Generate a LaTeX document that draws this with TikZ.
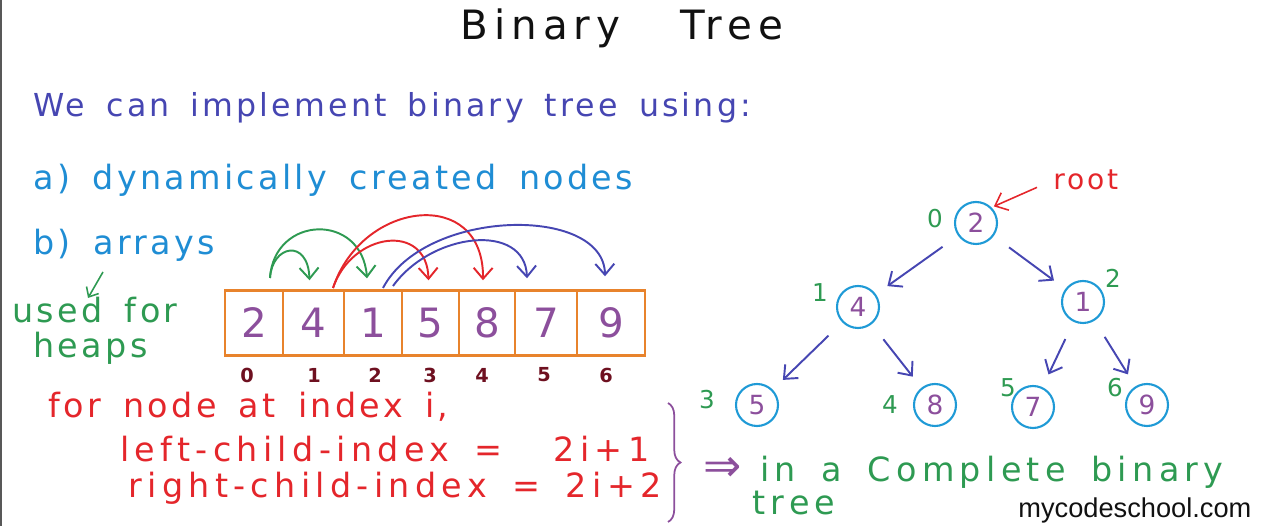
\documentclass[tikz,border=0pt]{standalone}
\usepackage{fontspec}
\setmainfont{DejaVu Sans}
\newfontfamily\handfont[LetterSpace=10, WordSpace=1.6]{DejaVu Sans}
\newfontfamily\widefont[LetterSpace=16, WordSpace=1.6]{DejaVu Sans}
\newfontfamily\titlefont[LetterSpace=15]{DejaVu Sans}
\newfontfamily\sitefont{Liberation Sans}
\usetikzlibrary{positioning, calc, arrows.meta, decorations.pathreplacing}
\definecolor{btInk}{HTML}{111111}
\definecolor{btIndigo}{HTML}{4646B2}
\definecolor{btSky}{HTML}{1F8DD4}
\definecolor{btGreen}{HTML}{2E9A52}
\definecolor{btOrange}{HTML}{E8832C}
\definecolor{btPurple}{HTML}{8C4F9C}
\definecolor{btMaroon}{HTML}{6E1020}
\definecolor{btRed}{HTML}{E4262B}
\definecolor{btCyan}{HTML}{1F9AD6}

\begin{document}
\begin{tikzpicture}[x=0.02cm, y=-0.02cm,
	hand/.style={font=\handfont\fontsize{19}{23}\selectfont, inner sep=0pt, anchor=base west},
	wide/.style={font=\widefont\fontsize{19}{23}\selectfont, inner sep=0pt, anchor=base west},
	cell/.style={draw=btOrange, line width=1.4pt, minimum height=1.3cm, inner sep=0pt,
		text=btPurple, font=\handfont\fontsize{23}{27}\selectfont},
	arrayidx/.style={text=btMaroon, font=\handfont\fontsize{11}{13}\selectfont\bfseries, inner sep=0pt},
	tnode/.style={circle, draw=btCyan, line width=1.2pt, minimum size=0.84cm, inner sep=0pt,
		text=btPurple, font=\handfont\fontsize{15}{18}\selectfont},
	tidx/.style={text=btGreen, font=\handfont\fontsize{14}{16}\selectfont, inner sep=0pt},
	tedge/.style={draw=btIndigo, line width=1.1pt, -{Straight Barb[length=2.2mm, width=3.8mm]},
		shorten <=0.38cm, shorten >=0.28cm},
	hop/.style={line width=1.1pt, -{Straight Barb[length=2.2mm, width=3.8mm]}}]
\useasboundingbox (0,0) rectangle (1265,526);
\draw[btInk!70, line width=0.8pt] (1,0) -- (1,526);

% headings
\node[font=\titlefont\fontsize{23}{27}\selectfont, text=btInk, anchor=base west, inner sep=0pt] (title) at (460,40) {Binary\hspace{1.2cm}Tree};
\node[hand, text=btIndigo, font=\handfont\fontsize{18}{22}\selectfont] (intro) at (33,117) {We can implement binary tree using:};
\node[hand, text=btSky] (opta) at (33,190) {a) dynamically created nodes};
\node[hand, text=btSky] (optb) at (33,255) {b) arrays};
\node[hand, text=btGreen] (usedfor) at (12,323) {used for};
\node[hand, text=btGreen] (heaps) at (33,358) {heaps};
\coordinate (hint) at (103,272);
\coordinate (hintend) at (88,298);
\draw[hop, btGreen, line width=0.9pt, -{Straight Barb[length=1.6mm, width=2.8mm]}] (hint) -- (hintend);

% the array
\foreach \l/\r/\v [count=\i from 0] in {225/283/2, 283/344/4, 344/402/1, 402/459/5, 459/515/8, 515/577/7, 577/645/9} {
	\pgfmathsetmacro\w{(\r-\l)*0.02}
	\node[cell, minimum width=\w cm] (cell\i) at ({(\l+\r)/2},323) {\v};
}
\foreach \x [count=\i from 0] in {247,314,375,430,482,544,606}
	\node[arrayidx] (idx\i) at (\x,375) {\i};

% child links over the array
\coordinate (gfrom) at (270,278);
\coordinate (rfrom) at (333,288);
\coordinate (bfromA) at (383,288);
\coordinate (bfromB) at (393,286);
\draw[hop, btGreen] (gfrom) .. controls (272,245) and (308,238) .. ($(cell1.north)+(-4,-9)$);
\draw[hop, btGreen] (gfrom) .. controls (274,215) and (362,212) .. ($(cell2.north)+(-6,-11)$);
\draw[hop, btRed] (rfrom) .. controls (352,232) and (427,222) .. ($(cell3.north)+(-2,-9)$);
\draw[hop, btRed] (rfrom) .. controls (362,200) and (484,186) .. ($(cell4.north)+(-4,-9)$);
\draw[hop, btIndigo] (bfromB) .. controls (432,232) and (525,222) .. ($(cell5.north)+(-19,-11)$);
\draw[hop, btIndigo] (bfromA) .. controls (425,208) and (604,205) .. ($(cell6.north)+(-6,-13)$);

% the tree
\foreach \x/\y/\v [count=\i from 0] in {976/223/2, 858/307/4, 1083/302/1, 757/405/5, 935/405/8, 1033/407/7, 1147/405/9}
	\node[tnode] (t\i) at (\x,\y) {\v};
\foreach \x/\y [count=\i from 0] in {935/219, 820/293, 1113/278, 707/400, 890/405, 1008/388, 1115/388}
	\node[tidx] (tl\i) at (\x,\y) {\i};
\draw[tedge] (t0) -- (t1);
\draw[tedge] (t0) -- (t2);
\draw[tedge] (t1) -- (t3);
\draw[tedge] (t1) -- (t4);
\draw[tedge] (t2) -- (t5);
\draw[tedge] (t2) -- (t6);
\node[hand, text=btRed, font=\handfont\fontsize{16}{19}\selectfont] (rootlbl) at (1053,190) {root};
\draw[hop, btRed, line width=0.9pt, shorten <=0.35cm, shorten >=0.05cm] (rootlbl.west) -- (t0.north east);

% index formulas
\node[hand, text=btRed] (rule) at (48,418) {for node at index i,};
\node[wide, text=btRed] (leftrule) at (120,462) {left-child-index = \ 2i+1};
\node[wide, text=btRed] (rightrule) at (128,498) {right-child-index = 2i+2};
\coordinate (bracetop) at (668,403);
\coordinate (bracebot) at (668,522);
\draw[btPurple, line width=1pt, decorate, decoration={brace, amplitude=0.25cm}] (bracetop) -- (bracebot);
\node[hand, text=btPurple, font=\handfont\fontsize{26}{30}\selectfont] (implies) at (703,482) {⇒};
\node[wide, text=btGreen] (complete) at (760,482) {in a Complete binary};
\node[wide, text=btGreen] (treeword) at (752,515) {tree};
\node[font=\sitefont\fontsize{15.5}{18}\selectfont, text=btInk, anchor=base west, inner sep=0pt] (site) at (1018,518) {mycodeschool.com};
\end{tikzpicture}
\end{document}
